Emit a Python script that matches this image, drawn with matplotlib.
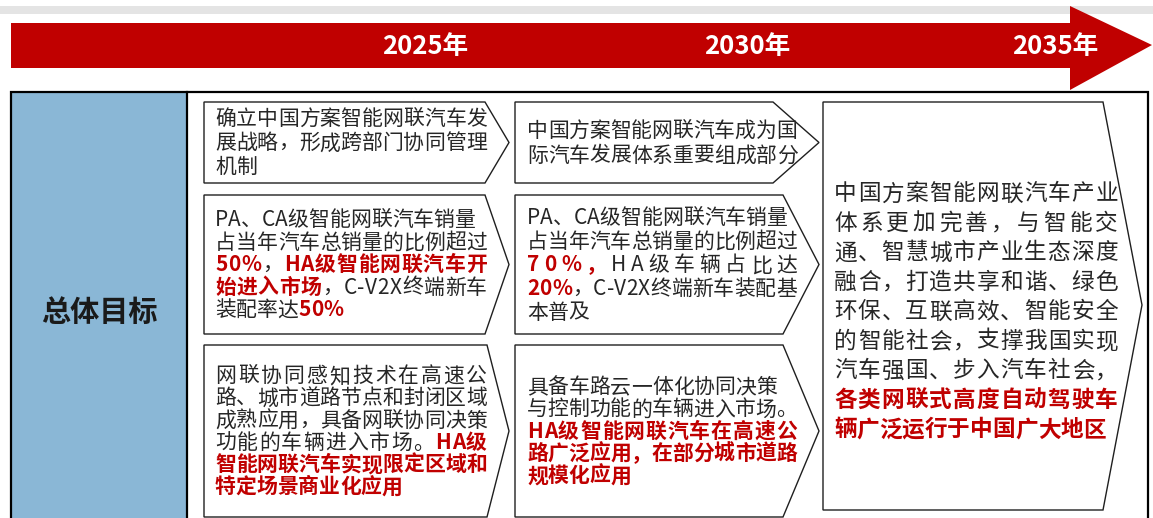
import matplotlib
matplotlib.use('Agg')
import matplotlib.pyplot as plt
from matplotlib.patches import Polygon, Rectangle
from matplotlib.font_manager import FontProperties, findfont, get_font

# ---- content ----
YEARS = ['2025年', '2030年', '2035年']
GOAL = '总体目标'

# [...] marks red bold text
BOXES_2025 = [
    ['确立中国方案智能网联汽车发', '展战略，形成跨部门协同管理', '机制'],
    ['PA、CA级智能网联汽车销量', '占当年汽车总销量的比例超过', '[50%]，[HA级智能网联汽车开]',
     '[始进入市场]，C-V2X终端新车', '装配率达[50%]'],
    ['网联协同感知技术在高速公', '路、城市道路节点和封闭区域', '成熟应用，具备网联协同决策',
     '功能的车辆进入市场。[HA级]', '[智能网联汽车实现限定区域和]', '[特定场景商业化应用]'],
]
BOXES_2030 = [
    ['中国方案智能网联汽车成为国', '际汽车发展体系重要组成部分'],
    ['PA、CA级智能网联汽车销量', '占当年汽车总销量的比例超过', '[70%，]HA级车辆占比达',
     '[20%]，C-V2X终端新车装配基', '本普及'],
    ['具备车路云一体化协同决策', '与控制功能的车辆进入市场。', '[HA级智能网联汽车在高速公]',
     '[路广泛应用，在部分城市道路]', '[规模化应用]'],
]
BOX_2035 = ['中国方案智能网联汽车产业', '体系更加完善，与智能交', '通、智慧城市产业生态深度',
            '融合，打造共享和谐、绿色', '环保、互联高效、智能安全', '的智能社会，支撑我国实现',
            '汽车强国、步入汽车社会，', '[各类网联式高度自动驾驶车]', '[辆广泛运行于中国广大地区]']
RAGGED = {'PA、CA级智能网联汽车销量', '具备车路云一体化协同决策'}

# ---- style / layout ----
W, H, DPI = 1153, 518, 100
FAMILY = ['Noto Sans CJK SC', 'DejaVu Sans']
RED = '#C00000'
TXT = '#262626'
BLUE = '#8AB7D6'
EDGE = '#1f1f1f'

fig = plt.figure(figsize=(W / DPI, H / DPI), dpi=DPI)
ax = fig.add_axes([0, 0, 1, 1])
ax.set_xlim(0, W)
ax.set_ylim(H, 0)
ax.axis('off')

_paths = {}


def advance(ch, size, bold):
    if bold not in _paths:
        _paths[bold] = findfont(FontProperties(family=FAMILY[0], weight='bold' if bold else 'normal'))
    font = get_font(_paths[bold])
    font.set_size(size, DPI)
    g = font.load_char(ord(ch))
    return g.linearHoriAdvance / 65536


def parse(line):
    chars, red = [], False
    for ch in line:
        if ch == '[':
            red = True
        elif ch == ']':
            red = False
        else:
            chars.append((ch, red))
    return chars


def draw_lines(lines, x0, x1, yc, step, size):
    px = size * DPI / 72
    y0 = yc - (len(lines) - 1) * step / 2
    for i, line in enumerate(lines):
        chars = parse(line)
        advs = [advance(c, size, r) for c, r in chars]
        gap = 0
        last = i == len(lines) - 1
        if not last and line not in RAGGED and len(chars) > 1:
            gap = (x1 - x0 - sum(advs)) / (len(chars) - 1)
        x = x0
        yb = y0 + i * step + 0.37 * px
        for (c, r), a in zip(chars, advs):
            ax.text(x, yb, c, fontsize=size, family=FAMILY,
                    color=RED if r else TXT, fontweight='bold' if r else 'normal',
                    ha='left', va='baseline')
            x += a + gap


# top grey strip and red timeline arrow
ax.add_patch(Rectangle((0, 6), W, 8, facecolor='#E4E4E4', edgecolor='none'))
ax.add_patch(Polygon([(11, 23), (1070, 23), (1070, 6), (1152, 45), (1070, 90), (1070, 68), (11, 68)],
                     closed=True, facecolor=RED, edgecolor='none'))
for label, xc in zip(YEARS, [425, 747, 1055]):
    ax.text(xc, 46, label, fontsize=18.5, family=FAMILY, fontweight='bold',
            color='white', ha='center', va='center')

# outer frame and label cell
ax.add_patch(Rectangle((11, 92), 176, 460, facecolor=BLUE, edgecolor='none'))
ax.plot([11, 11, 1148, 1148], [560, 92, 92, 560], color='black', lw=1.6, solid_joinstyle='miter')
ax.plot([187, 187], [92, 560], color='black', lw=1.6)
ax.text(99, 312, GOAL, fontsize=21, family=FAMILY, fontweight='bold', color='#1a1a1a',
        ha='center', va='center')

# chevron boxes
rows = [(102, 183), (195, 334), (345, 517)]
cols = [(204, [485, 485, 487], 509, 215, 487, BOXES_2025),
        (515, [773, 783, 783], 819, 527, 797, BOXES_2030)]
steps = [[24, 22.5, 22.3], [25, 23.7, 22.3]]
for ci, (left, flats, tip, tx0, tx1, boxes) in enumerate(cols):
    for ri, ((top, bot), flat, lines) in enumerate(zip(rows, flats, boxes)):
        mid = (top + bot) / 2
        ax.add_patch(Polygon([(left, top), (flat, top), (tip, mid), (flat, bot), (left, bot)],
                             closed=True, facecolor='white', edgecolor=EDGE, lw=1.0))
        draw_lines(lines, tx0, tx1, mid - 1, steps[ci][ri], 15)

# 2035 box
ax.add_patch(Polygon([(823, 102), (1103, 102), (1142, 305), (1103, 510), (823, 510)],
                     closed=True, facecolor='white', edgecolor=EDGE, lw=1.0))
draw_lines(BOX_2035, 834, 1118, 310, 29.5, 16.3)

fig.savefig('out.png', dpi=DPI)
